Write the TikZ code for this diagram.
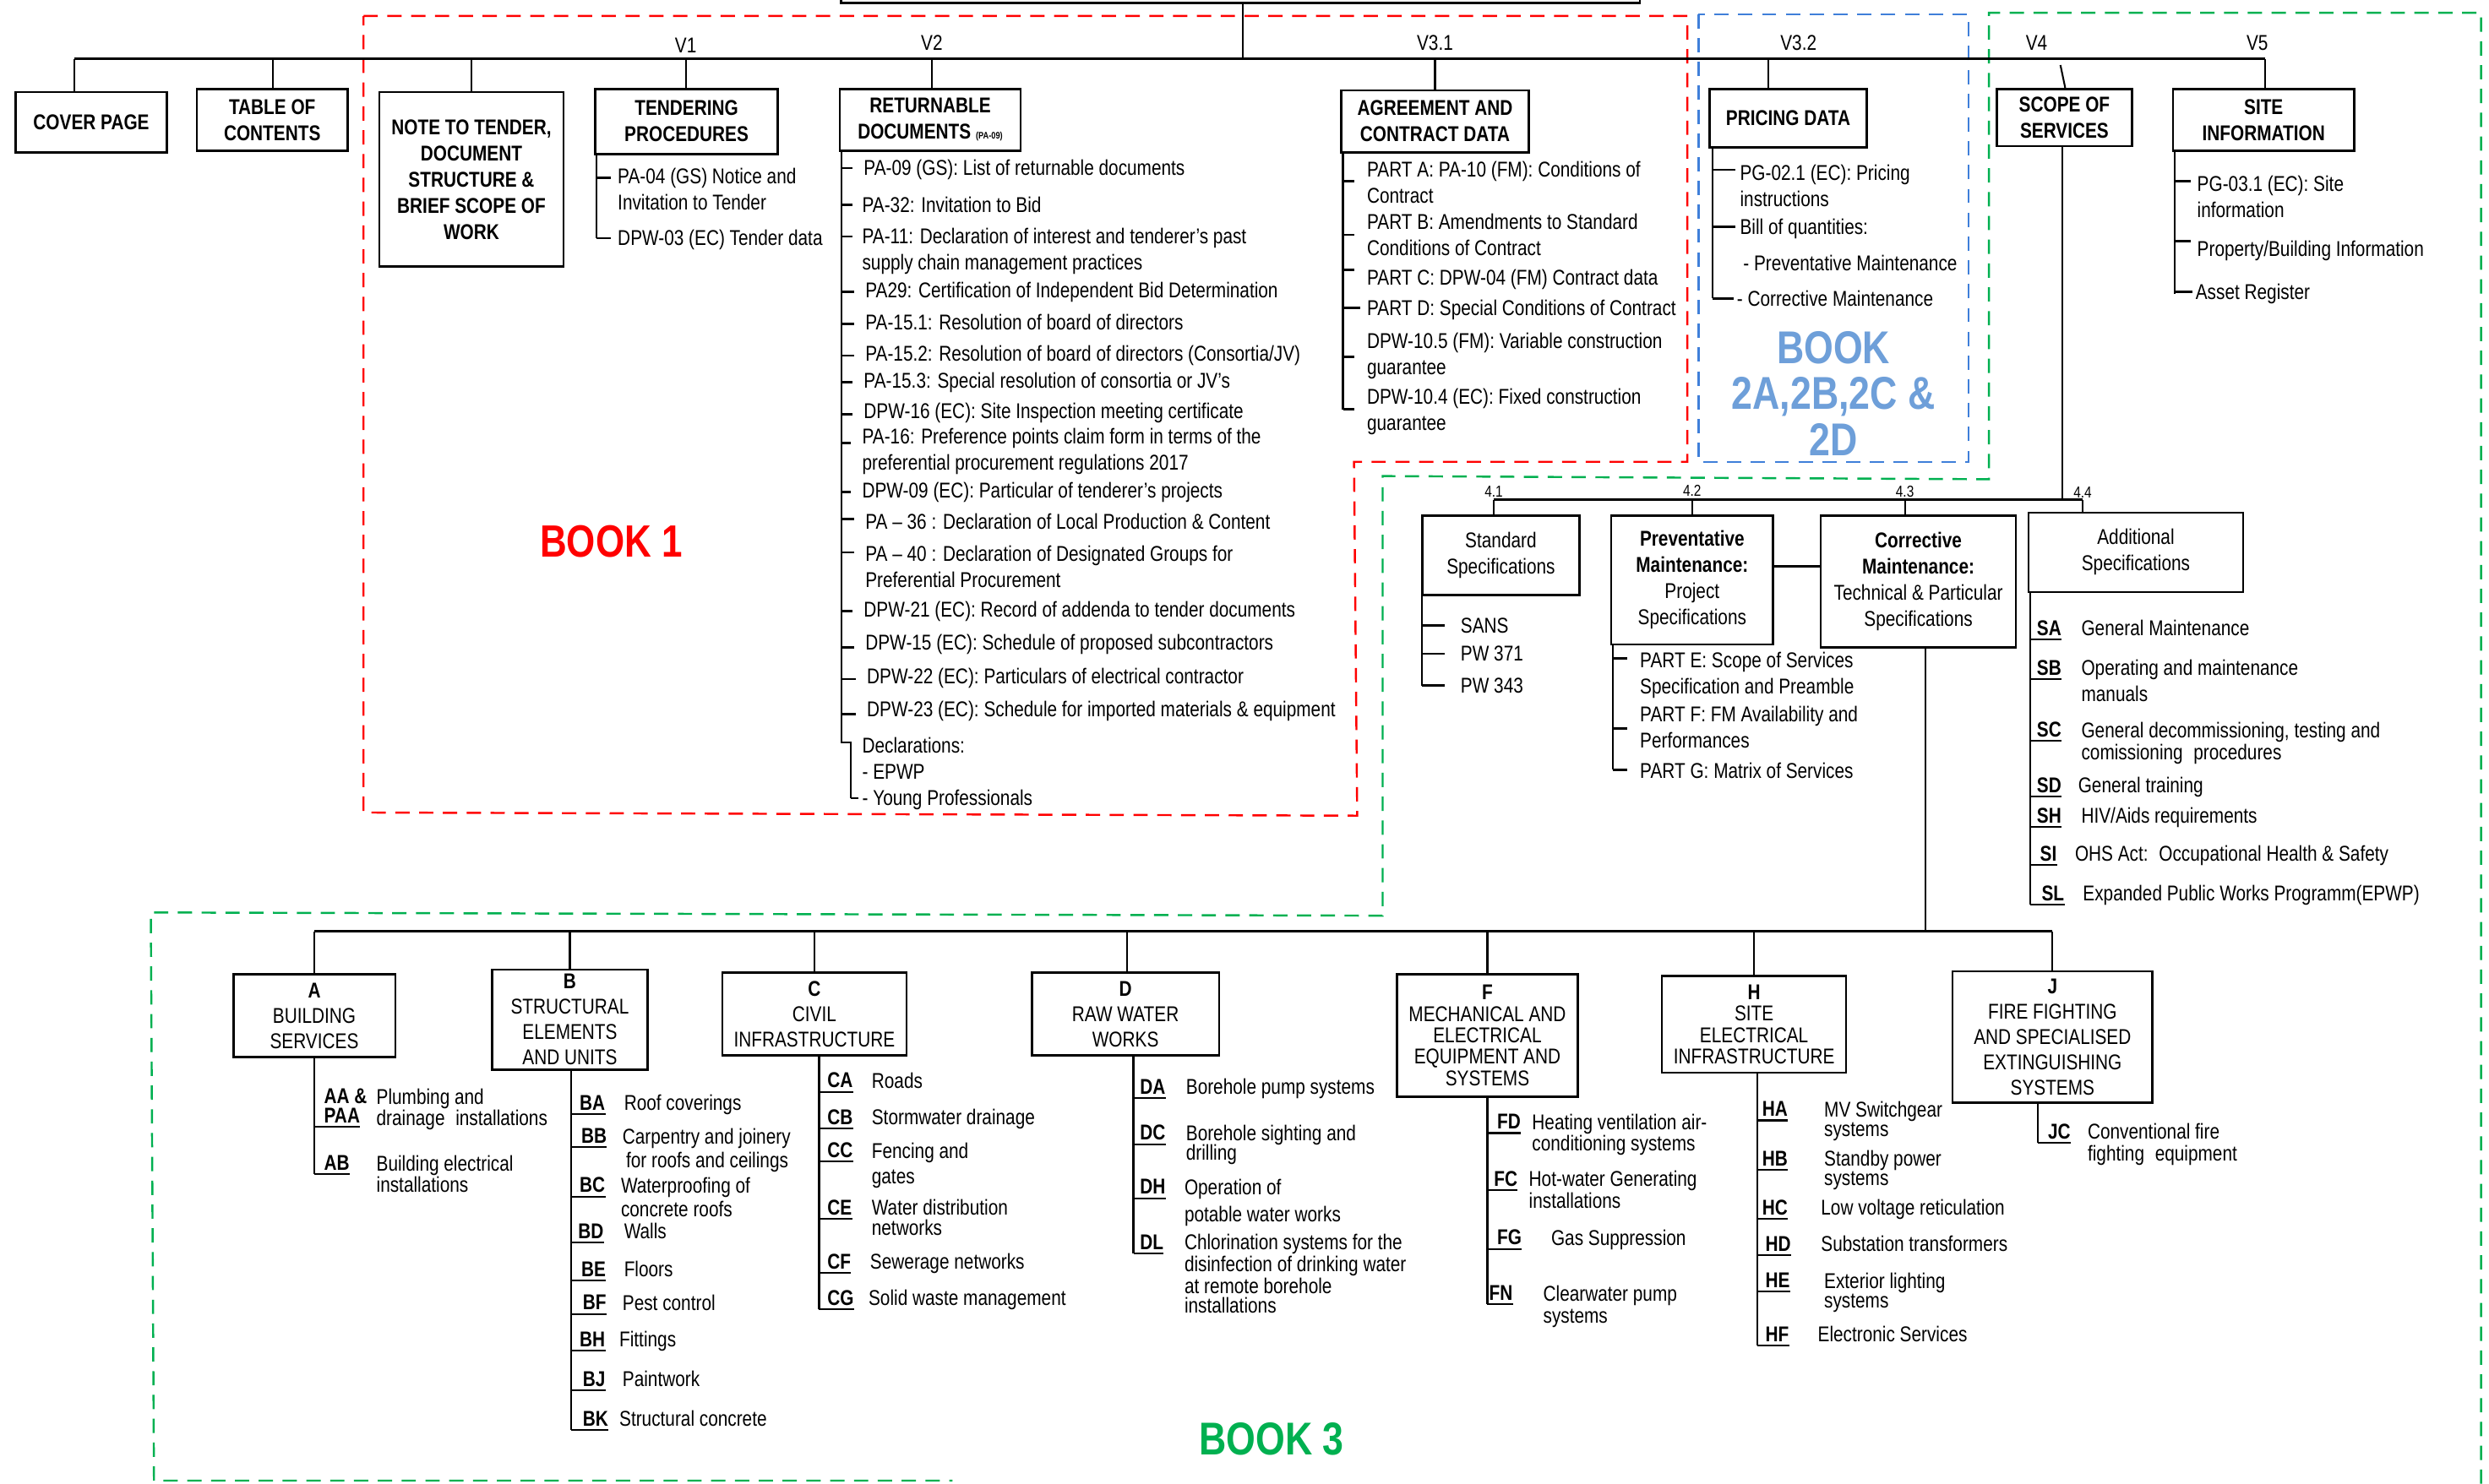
\documentclass[tikz,border=0pt]{standalone}
\usepackage{fontspec}
\setmainfont{Liberation Sans}[FakeStretch=0.82]
\usetikzlibrary{calc}
\definecolor{bkred}{HTML}{FF0000}
\definecolor{bkblue}{HTML}{3F7FD9}
\definecolor{bktxt}{HTML}{6E9FD9}
\definecolor{bkgreen}{HTML}{00B050}
\newcommand\fTop{\fontsize{13.5}{16.5}\selectfont}
\newcommand\fBot{\fontsize{13.5}{12.5}\selectfont}
\newcommand\fBox{\fontsize{13.5}{16}\selectfont}
\newcommand\fBoxT{\fontsize{13.5}{13.5}\selectfont}
\newcommand\mystrut{\vrule height 10pt depth 0pt width 0pt}
\newcounter{tc}
\tikzset{
 bx/.style={draw, line width=1.4pt, align=center, inner sep=0pt},
 tb/.style={bx, font=\fTop\bfseries},
 lb/.style={bx, font=\fBox},
 it/.style={anchor=north west, inner sep=0pt, align=left, font=\fTop, yshift=10pt},
 ib/.style={anchor=north west, inner sep=0pt, align=left, font=\fBot, yshift=10pt},
 cd/.style={anchor=base west, inner sep=0pt, font=\fBot\bfseries},
 ln/.style={line width=1.1pt},
 mbar/.style={line width=1.6pt},
 tk/.style={line width=1.4pt},
 ul/.style={line width=1.1pt},
 lab/.style={font=\fTop, inner sep=0pt, anchor=base},
 dsh/.style={line width=1.3pt, dash pattern=on 9pt off 6pt},
}
% item with tick: vx, ticky, gap, x, ycenter, text
\newcommand\TI[6]{\stepcounter{tc}\edef\nn{i\arabic{tc}}%
 \node[it] (\nn) at (#4,#5+4.5) {\mystrut #6};
 \draw[tk, shorten >=#3pt] (#1,#2) -- (\nn.west |- #1,#2);}
% plain text item: x, ycenter, text
\newcommand\TT[3]{\stepcounter{tc}\edef\nn{i\arabic{tc}}%
 \node[it] (\nn) at (#1,#2+4.5) {\mystrut #3};}
% coded item: [style] vx, codex, textx, ycenter, code, text
\newcommand\CI[7][ib]{\stepcounter{tc}\edef\nn{c\arabic{tc}}\edef\mm{d\arabic{tc}}%
 \node[cd] (\nn) at (#3,#5+4.5) {#6};
 \draw[ul] (#2,#5+7) -- (\nn.east |- #2,#5+7);
 \node[#1] (\mm) at (#4,#5+4.5) {\mystrut #7};}
\begin{document}
\begin{tikzpicture}[x=1pt,y=-1pt]
\useasboundingbox (0,0) rectangle (1568,935);
\fill[white] (0,0) rectangle (1568,935);

% dashed book frames
\draw[dsh, bkred] (229,10) -- (1063,10) -- (1063,291) -- (853,291) -- (855,514) -- (229,512) -- cycle;
\draw[dsh, bkblue] (1070,9) rectangle (1240,291);
\draw[dsh, bkgreen] (1563,935) -- (1563,8) -- (1253,8) -- (1253,302) -- (871,300) -- (871,577) -- (95,575) -- (97,933) -- (600,933);

% root and main bar
\node[draw, line width=1.4pt, minimum width=503pt, minimum height=30pt, inner sep=0pt] (root) at (781.5,-13) {};
\coordinate (b0) at (47,37);
\coordinate (b1) at (1427,37);
\draw[ln] (root.south -| 783,0) -- (783,37);
\draw[mbar] (b0) -- (b1);
\node[lab] (v1) at (432,33.5) {V1};
\node[lab] (v2) at (587,31.5) {V2};
\node[lab] (v31) at (904,31.5) {V3.1};
\node[lab] (v32) at (1133,31.5) {V3.2};
\node[lab] (v4) at (1283,31.5) {V4};
\node[lab] (v5) at (1422,31.5) {V5};

% top boxes
\node[tb, minimum width=95pt, minimum height=38pt] (cover) at (57.5,77) {COVER PAGE};
\node[tb, minimum width=95pt, minimum height=39pt] (toc) at (171.5,75.5) {TABLE OF\\CONTENTS};
\node[tb, minimum width=116pt, minimum height=110pt] (note) at (297,113) {NOTE TO TENDER,\\DOCUMENT\\STRUCTURE \&\\BRIEF SCOPE OF\\WORK};
\node[tb, minimum width=115pt, minimum height=41pt] (tend) at (432.5,76.5) {TENDERING\\PROCEDURES};
\node[tb, minimum width=114pt, minimum height=39pt] (ret) at (586,75.5) {RETURNABLE\\DOCUMENTS {\fontsize{6}{7}\selectfont (PA-09)}};
\node[tb, minimum width=118pt, minimum height=39pt] (agr) at (904,76.5) {AGREEMENT AND\\CONTRACT DATA};
\node[tb, minimum width=99pt, minimum height=37pt] (pric) at (1126.5,74.5) {PRICING DATA};
\node[tb, minimum width=85pt, minimum height=36pt] (scope) at (1300.5,74) {SCOPE OF\\SERVICES};
\node[tb, minimum width=114pt, minimum height=39pt] (site) at (1426,75.5) {SITE\\INFORMATION};

\draw[ln] (b0) -- (cover.north -| b0);
\draw[ln] (172,37) -- (toc.north -| 172,0);
\draw[ln] (297,37) -- (note.north);
\draw[ln] (432,37) -- (tend.north -| 432,0);
\draw[ln] (587,37) -- (ret.north -| 587,0);
\draw[ln] (904,37) -- (agr.north);
\draw[ln] (1114,37) -- (pric.north -| 1114,0);
\draw[ln] (1298,41) -- (scope.north -| 1301,0);
\draw[ln] (b1) -- (site.north -| b1);

% tendering list
\draw[ln] (tend.south -| 376,0) -- (376,150);
\TI{376}{112}{4}{389}{111}{PA-04 (GS) Notice and\\Invitation to Tender}
\TI{376}{150}{4}{389}{150}{DPW-03 (EC) Tender data}

% returnable list
\draw[ln] (ret.south -| 530,0) -- (530,468) -- (536,468) -- (536,503);
\TI{530}{106}{7}{544}{106}{PA-09 (GS): List of returnable documents}
\TI{530}{129}{6}{543}{129}{PA-32: Invitation to Bid}
\TI{530}{149}{6}{543}{149}{PA-11: Declaration of interest and tenderer’s past\\supply chain management practices}
\TI{530}{184}{7}{545}{183}{PA29: Certification of Independent Bid Determination}
\TI{530}{204}{7}{545}{203}{PA-15.1: Resolution of board of directors}
\TI{530}{224}{7}{545}{223}{PA-15.2: Resolution of board of directors (Consortia/JV)}
\TI{530}{241}{7}{544}{240}{PA-15.3: Special resolution of consortia or JV’s}
\TI{530}{261}{7}{544}{259}{DPW-16 (EC): Site Inspection meeting certificate}
\TI{530}{279}{7}{543}{275}{PA-16: Preference points claim form in terms of the\\preferential procurement regulations 2017}
\TI{530}{310}{7}{543}{309}{DPW-09 (EC): Particular of tenderer’s projects}
\TI{530}{327}{7}{545}{329}{PA – 36 : Declaration of Local Production \& Content}
\TI{530}{348}{7}{545}{349}{PA – 40 : Declaration of Designated Groups for\\Preferential Procurement}
\TI{530}{385}{7}{544}{384}{DPW-21 (EC): Record of addenda to tender documents}
\TI{530}{408}{7}{545}{405}{DPW-15 (EC): Schedule of proposed subcontractors}
\TI{530}{428}{7}{546}{426}{DPW-22 (EC): Particulars of electrical contractor}
\TI{530}{450}{7}{546}{447}{DPW-23 (EC): Schedule for imported materials \& equipment}
\TI{536}{503}{2}{543}{470}{Declarations:\\- EPWP\\- Young Professionals}

% agreement list
\draw[ln] (agr.south -| 846,0) -- (846,258);
\TI{846}{114}{8}{861}{107}{PART A: PA-10 (FM): Conditions of\\Contract}
\TI{846}{148}{8}{861}{140}{PART B: Amendments to Standard\\Conditions of Contract}
\TI{846}{170}{8}{861}{175}{PART C: DPW-04 (FM) Contract data}
\TI{846}{194}{4}{861}{194}{PART D: Special Conditions of Contract}
\TI{846}{225}{8}{861}{215}{DPW-10.5 (FM): Variable construction\\guarantee}
\TI{846}{258}{8}{861}{250}{DPW-10.4 (EC): Fixed construction\\guarantee}

% pricing list
\draw[ln] (pric.south -| 1079,0) -- (1079,188);
\TI{1079}{107}{3}{1096}{109}{PG-02.1 (EC): Pricing\\instructions}
\TI{1079}{143}{3}{1096}{143}{Bill of quantities:}
\TT{1098}{166}{- Preventative Maintenance}
\TI{1079}{188}{2}{1094}{188}{- Corrective Maintenance}

% site list
\draw[ln] (site.south -| 1370,0) -- (1370,185);
\TI{1370}{114}{4}{1384}{116}{PG-03.1 (EC): Site\\information}
\TI{1370}{152}{4}{1384}{157}{Property/Building Information}
\TI{1370}{184}{2}{1383}{184}{Asset Register}

% book labels
\node[font=\fontsize{28.5}{30}\selectfont\bfseries, text=bkred] (book1) at (385,341) {BOOK 1};
\node[font=\fontsize{29}{29}\selectfont\bfseries, text=bktxt, align=center] (book2) at (1155,248) {BOOK\\2A,2B,2C \&\\2D};
\node[font=\fontsize{29}{30}\selectfont\bfseries, text=bkgreen] (book3) at (801,907) {BOOK 3};

% section 4
\draw[ln] (scope.south -| 1299,0) -- (1299,315);
\draw[mbar] (941,315) -- (1312,315);
\node[font=\fontsize{10}{10}\selectfont, anchor=base, inner sep=0pt] (l41) at (941,313) {4.1};
\node[font=\fontsize{10}{10}\selectfont, anchor=base, inner sep=0pt] (l42) at (1066,312.5) {4.2};
\node[font=\fontsize{10}{10}\selectfont, anchor=base, inner sep=0pt] (l43) at (1200,313) {4.3};
\node[font=\fontsize{10}{10}\selectfont, anchor=base, inner sep=0pt] (l44) at (1312,314) {4.4};
\node[bx, font=\fTop, minimum width=99pt, minimum height=50pt] (std) at (945.5,350) {Standard\\Specifications};
\node[bx, font=\fTop, minimum width=102pt, minimum height=81pt] (prev) at (1066,365.5) {\textbf{Preventative}\\\textbf{Maintenance:}\\Project\\Specifications};
\node[bx, font=\fTop, minimum width=123pt, minimum height=83pt] (corr) at (1208.5,366.5) {\textbf{Corrective}\\\textbf{Maintenance:}\\Technical \& Particular\\Specifications};
\node[bx, font=\fTop, minimum width=135pt, minimum height=50pt] (add) at (1345.5,348) {Additional\\Specifications};
\draw[ln] (941,315) -- (std.north -| 941,0);
\draw[ln] (1066,315) -- (prev.north -| 1066,0);
\draw[ln] (1200,315) -- (corr.north -| 1200,0);
\draw[ln] (1312,315) -- (add.north -| 1312,0);
\draw[mbar] (prev.east |- 0,357) -- (corr.west |- 0,357);

\draw[ln] (std.south -| 896,0) -- (896,432);
\TI{896}{394}{10}{920}{394}{SANS}
\TI{896}{412}{10}{920}{412}{PW 371}
\TI{896}{432}{10}{920}{432}{PW 343}

\draw[ln] (prev.south -| 1016,0) -- (1016,485);
\TI{1016}{415}{8}{1033}{416}{PART E: Scope of Services\\Specification and Preamble}
\TI{1016}{459}{8}{1033}{450}{PART F: FM Availability and\\Performances}
\TI{1016}{485}{8}{1033}{486}{PART G: Matrix of Services}

\draw[ln] (add.south -| 1279,0) -- (1279,570);
\CI[it]{1279}{1283}{1311}{396}{SA}{General Maintenance}
\CI[it]{1279}{1283}{1311}{421}{SB}{Operating and maintenance\\manuals}
\CI[it]{1279}{1283}{1311}{460}{SC}{General decommissioning, testing and\\[-2.5pt]comissioning\enspace procedures}
\CI[it]{1279}{1283}{1309}{495}{SD}{General training}
\CI[it]{1279}{1283}{1311}{514}{SH}{HIV/Aids requirements}
\CI[it]{1279}{1285}{1307}{538}{SI}{OHS Act:\enspace Occupational Health \& Safety}
\CI[it]{1279}{1286}{1312}{563}{SL}{Expanded Public Works Programm(EPWP)}

% book 3 tree
\draw[ln] (corr.south -| 1213,0) -- (1213,587);
\draw[mbar] (198,587) -- (1293,587);
\node[lb, minimum width=102pt, minimum height=52pt] (A) at (198,640) {\textbf{A}\\BUILDING\\SERVICES};
\node[lb, minimum width=98pt, minimum height=63pt] (B) at (359,642.5) {\textbf{B}\\STRUCTURAL\\ELEMENTS\\AND UNITS};
\node[lb, minimum width=116pt, minimum height=52pt] (C) at (513,639) {\textbf{C}\\CIVIL\\INFRASTRUCTURE};
\node[lb, minimum width=118pt, minimum height=52pt] (D) at (709,639) {\textbf{D}\\RAW WATER\\WORKS};
\node[lb, font=\fBoxT, minimum width=114pt, minimum height=77pt] (F) at (937,652.5) {\textbf{F}\\MECHANICAL AND\\ELECTRICAL\\EQUIPMENT AND\\SYSTEMS};
\node[lb, font=\fBoxT, minimum width=116pt, minimum height=61pt] (H) at (1105,645.5) {\textbf{H}\\SITE\\ELECTRICAL\\INFRASTRUCTURE};
\node[lb, minimum width=126pt, minimum height=83pt] (J) at (1293,653.5) {\textbf{J}\\FIRE FIGHTING\\AND SPECIALISED\\EXTINGUISHING\\SYSTEMS};
\draw[ln] (198,587) -- (A.north);
\draw[ln] (359,587) -- (B.north -| 359,0);
\draw[ln] (513,587) -- (C.north);
\draw[ln] (710,587) -- (D.north -| 710,0);
\draw[ln] (937,587) -- (F.north);
\draw[ln] (1105,587) -- (H.north);
\draw[ln] (1293,587) -- (J.north);

% A
\draw[ln] (A.south) -- (198,740);
\node[cd] (caa) at (204,695.5) {AA \&};
\node[cd] (cpaa) at (204,707.5) {PAA};
\draw[ul] (198,710) -- (cpaa.east |- 198,710);
\node[ib] (daa) at (237,695.5) {\mystrut Plumbing and\\drainage\enspace installations};
\CI{198}{204}{237}{733}{AB}{Building electrical\\installations}

% B
\draw[ln] (B.south -| 360,0) -- (360,901);
\CI{360}{365}{393}{695}{BA}{Roof coverings}
\CI{360}{366}{392}{716}{BB}{Carpentry and joinery\\[1.5pt]\,for roofs and ceilings}
\CI{360}{365}{391}{747}{BC}{Waterproofing of\\[1.5pt]concrete roofs}
\CI{360}{364}{393}{776}{BD}{Walls}
\CI{360}{366}{393}{800}{BE}{Floors}
\CI{360}{367}{392}{821}{BF}{Pest control}
\CI{360}{365}{390}{844}{BH}{Fittings}
\CI{360}{367}{392}{869}{BJ}{Paintwork}
\CI{360}{367}{390}{894}{BK}{Structural concrete}

% C
\draw[ln] (C.south -| 516,0) -- (516,825);
\CI{516}{521}{549}{681}{CA}{Roads}
\CI{516}{521}{549}{704}{CB}{Stormwater drainage}
\CI{516}{521}{549}{725}{CC}{Fencing and\\[3.5pt]gates}
\CI{516}{521}{549}{761}{CE}{Water distribution\\networks}
\CI{516}{521}{548}{795}{CF}{Sewerage networks}
\CI{516}{521}{547}{818}{CG}{Solid waste management}

% D
\draw[ln] (D.south -| 714,0) -- (714,790);
\CI{714}{718}{747}{685}{DA}{Borehole pump systems}
\CI{714}{718}{747}{714}{DC}{Borehole sighting and\\[-1.5pt]drilling}
\CI{714}{718}{746}{748}{DH}{Operation of\\[3.5pt]potable water works}
\CI{714}{718}{746}{783}{DL}{Chlorination systems for the\\disinfection of drinking water\\at remote borehole\\installations}

% F
\draw[ln] (F.south -| 937,0) -- (937,822);
\CI{937}{943}{965}{707}{FD}{Heating ventilation air-\\conditioning systems}
\CI{937}{941}{963}{743}{FC}{Hot-water Generating\\installations}
\CI{937}{943}{977}{780}{FG}{Gas Suppression}
\CI{937}{938}{972}{815}{FN}{Clearwater pump\\[1.5pt]systems}

% H
\draw[ln] (H.south -| 1107,0) -- (1107,848);
\CI{1107}{1110}{1149}{699}{HA}{MV Switchgear\\systems}
\CI{1107}{1110}{1149}{730}{HB}{Standby power\\systems}
\CI{1107}{1110}{1147}{761}{HC}{Low voltage reticulation}
\CI{1107}{1112}{1147}{784}{HD}{Substation transformers}
\CI{1107}{1112}{1149}{807}{HE}{Exterior lighting\\systems}
\CI{1107}{1112}{1145}{841}{HF}{Electronic Services}

% J
\draw[ln] (J.south -| 1284,0) -- (1284,720);
\CI{1284}{1290}{1315}{713}{JC}{Conventional fire\\[1.5pt]fighting\enspace equipment}
\end{tikzpicture}
\end{document}
